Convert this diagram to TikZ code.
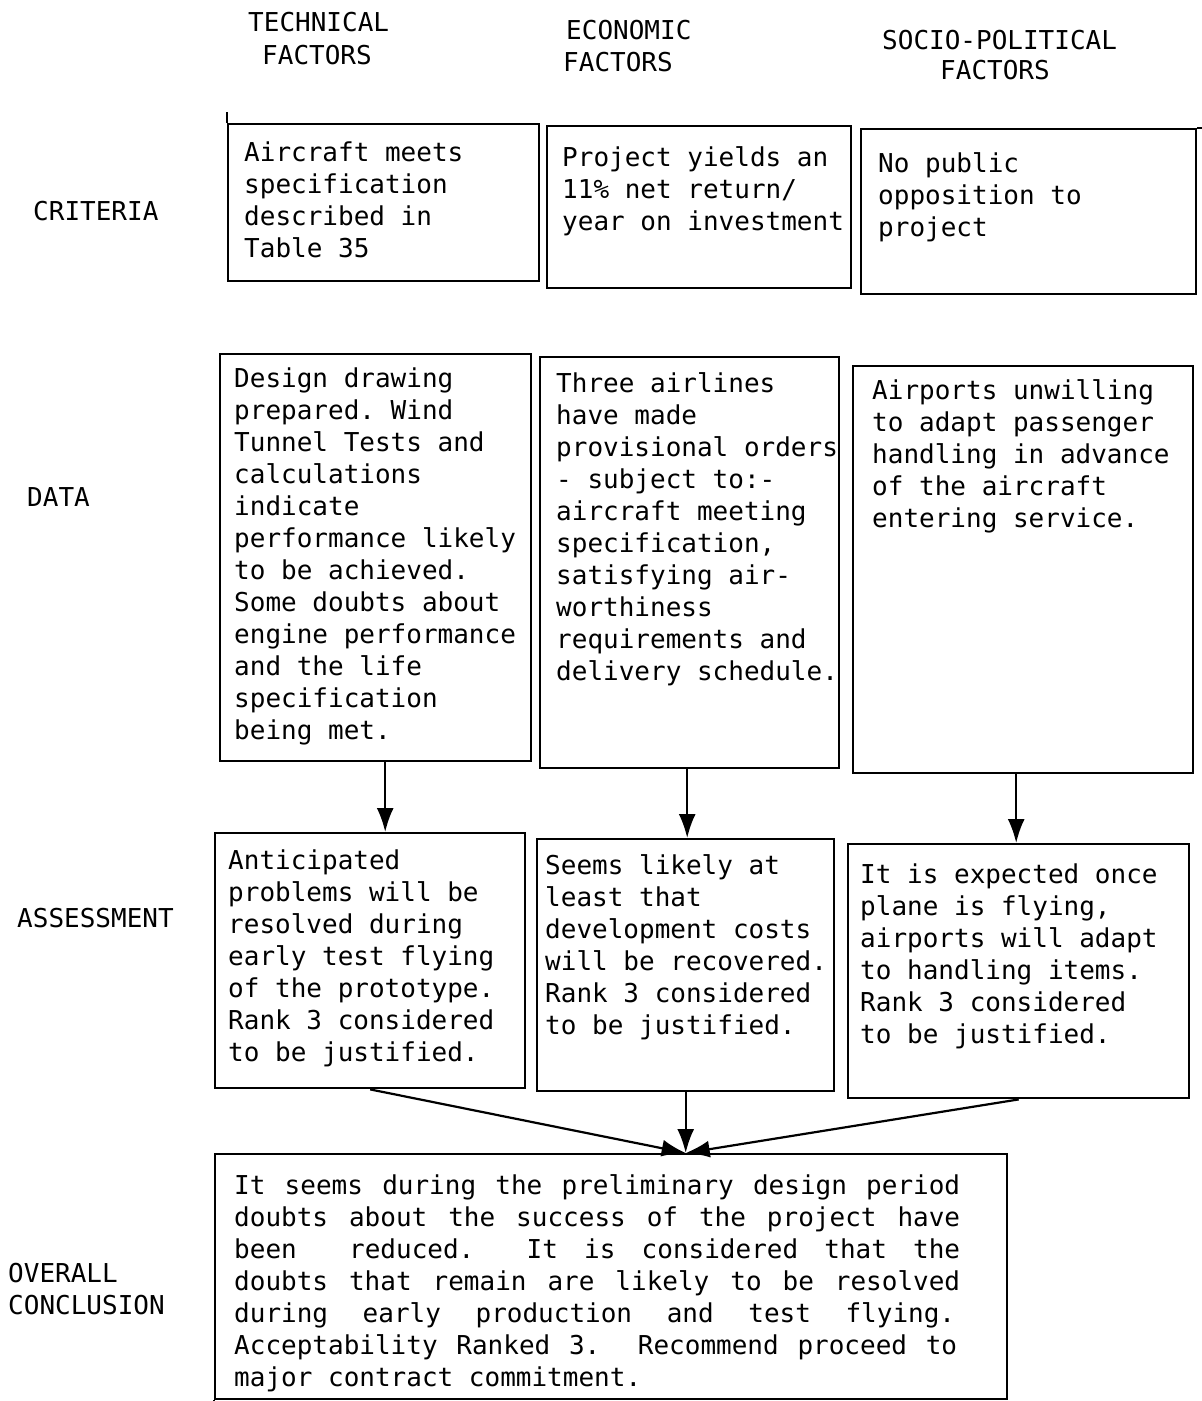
\documentclass[tikz,border=0pt]{standalone}
\usepackage{fontspec}
\usetikzlibrary{arrows.meta,calc}
\newfontfamily\monofnt{DejaVu Sans Mono}
\newcommand\bfnt{\monofnt\fontsize{26}{32}\selectfont\frenchspacing}
\newcommand\gp{\hfill}
\begin{document}
\begin{tikzpicture}[x=1pt,y=-1pt,
  box/.style={draw, line width=2.4pt, inner sep=0pt, anchor=north west},
  txt/.style={anchor=north west, inner sep=0pt, align=left, font=\bfnt},
  lbl/.style={anchor=west, inner sep=0pt, font=\bfnt},
  edge/.style={line width=2.4pt},
  arr/.style={line width=2.2pt, -{Latex[length=24pt,width=17pt]}}]
\useasboundingbox[fill=white] (0,0) rectangle (1202,1401);

% column headers
\node[lbl] (h1a) at (248,22) {TECHNICAL};
\node[lbl] (h1b) at (262,55) {FACTORS};
\node[lbl] (h2a) at (566,30) {ECONOMIC};
\node[lbl] (h2b) at (563,62) {FACTORS};
\node[lbl] (h3a) at (882,40) {SOCIO-POLITICAL};
\node[lbl] (h3b) at (940,70) {FACTORS};

% row labels
\node[lbl] (r1) at (33,211) {CRITERIA};
\node[lbl] (r2) at (27,497) {DATA};
\node[lbl] (r3) at (17,918) {ASSESSMENT};
\node[lbl] (r4a) at (8,1273) {OVERALL};
\node[lbl] (r4b) at (8,1305) {CONCLUSION};

% boxes
\node[box, minimum width=311pt, minimum height=157pt] (c1) at (227,123) {};
\node[box, minimum width=304pt, minimum height=162pt] (c2) at (546,125) {};
\node[box, minimum width=335pt, minimum height=165pt] (c3) at (860,128) {};
\node[box, minimum width=311pt, minimum height=407pt] (d1) at (219,353) {};
\node[box, minimum width=299pt, minimum height=411pt] (d2) at (539,356) {};
\node[box, minimum width=340pt, minimum height=407pt] (d3) at (852,365) {};
\node[box, minimum width=310pt, minimum height=255pt] (a1) at (214,832) {};
\node[box, minimum width=297pt, minimum height=252pt] (a2) at (536,838) {};
\node[box, minimum width=341pt, minimum height=254pt] (a3) at (847,843) {};
\node[box, minimum width=792pt, minimum height=245pt] (k) at (214,1153) {};

% small edge overhangs
\draw[edge] (c1.north west) -- ++(0,-11);
\draw[edge] (c3.north east) -- ++(7,0);
\draw[edge] (k.south west) -- ++(0,3);

% box texts
\node[txt] (tc1) at (244,139) {\strut Aircraft meets\\specification\\described in\\Table 35};
\node[txt] (tc2) at (562,144) {\strut Project yields an\\11\% net return/\\year on investment};
\node[txt] (tc3) at (878,150) {\strut No public\\opposition to\\project};
\node[txt] (td1) at (234,365) {\strut Design drawing\\prepared. Wind\\Tunnel Tests and\\calculations\\indicate\\performance likely\\to be achieved.\\Some doubts about\\engine performance\\and the life\\specification\\being met.};
\node[txt] (td2) at (556,370) {\strut Three airlines\\have made\\provisional orders\\- subject to:-\\aircraft meeting\\specification,\\satisfying air-\\worthiness\\requirements and\\delivery schedule.};
\node[txt] (td3) at (872,377) {\strut Airports unwilling\\to adapt passenger\\handling in advance\\of the aircraft\\entering service.};
\node[txt] (ta1) at (228,847) {\strut Anticipated\\problems will be\\resolved during\\early test flying\\of the prototype.\\Rank 3 considered\\to be justified.};
\node[txt] (ta2) at (545,852) {\strut Seems likely at\\least that\\development costs\\will be recovered.\\Rank 3 considered\\to be justified.};
\node[txt] (ta3) at (860,861) {\strut It is expected once\\plane is flying,\\airports will adapt\\to handling items.\\Rank 3 considered\\to be justified.};
\node[txt] (tk) at (234,1172) {\strut\hbox to 726pt{It\gp seems\gp during\gp the\gp preliminary\gp design\gp period}\\
\hbox to 726pt{doubts\gp about\gp the\gp success\gp of\gp the\gp project\gp have}\\
\hbox to 726pt{been\gp\gp reduced.\gp\gp It\gp is\gp considered\gp that\gp the}\\
\hbox to 726pt{doubts\gp that\gp remain\gp are\gp likely\gp to\gp be\gp resolved}\\
\hbox to 721pt{during\gp early\gp production\gp and\gp test\gp flying.}\\
\hbox to 723pt{Acceptability\gp Ranked\gp 3.\gp\gp Recommend\gp proceed\gp to}\\
major contract commitment.};

% connectors
\draw[arr] ([xshift=9.5pt]d1.south) -- ([xshift=9.5pt]d1.south |- a1.north);
\draw[arr] ([xshift=-2.5pt]d2.south) -- ([xshift=-2.5pt]d2.south |- a2.north);
\draw[arr] ([xshift=-7pt]d3.south) -- ([xshift=-7pt]d3.south |- a3.north);
\coordinate (tip) at (k.north -| a2.south);
\draw[arr] (a1.south) -- (tip);
\draw[arr] (a2.south) -- (tip);
\draw[arr] (a3.south) -- (tip);
\end{tikzpicture}
\end{document}
